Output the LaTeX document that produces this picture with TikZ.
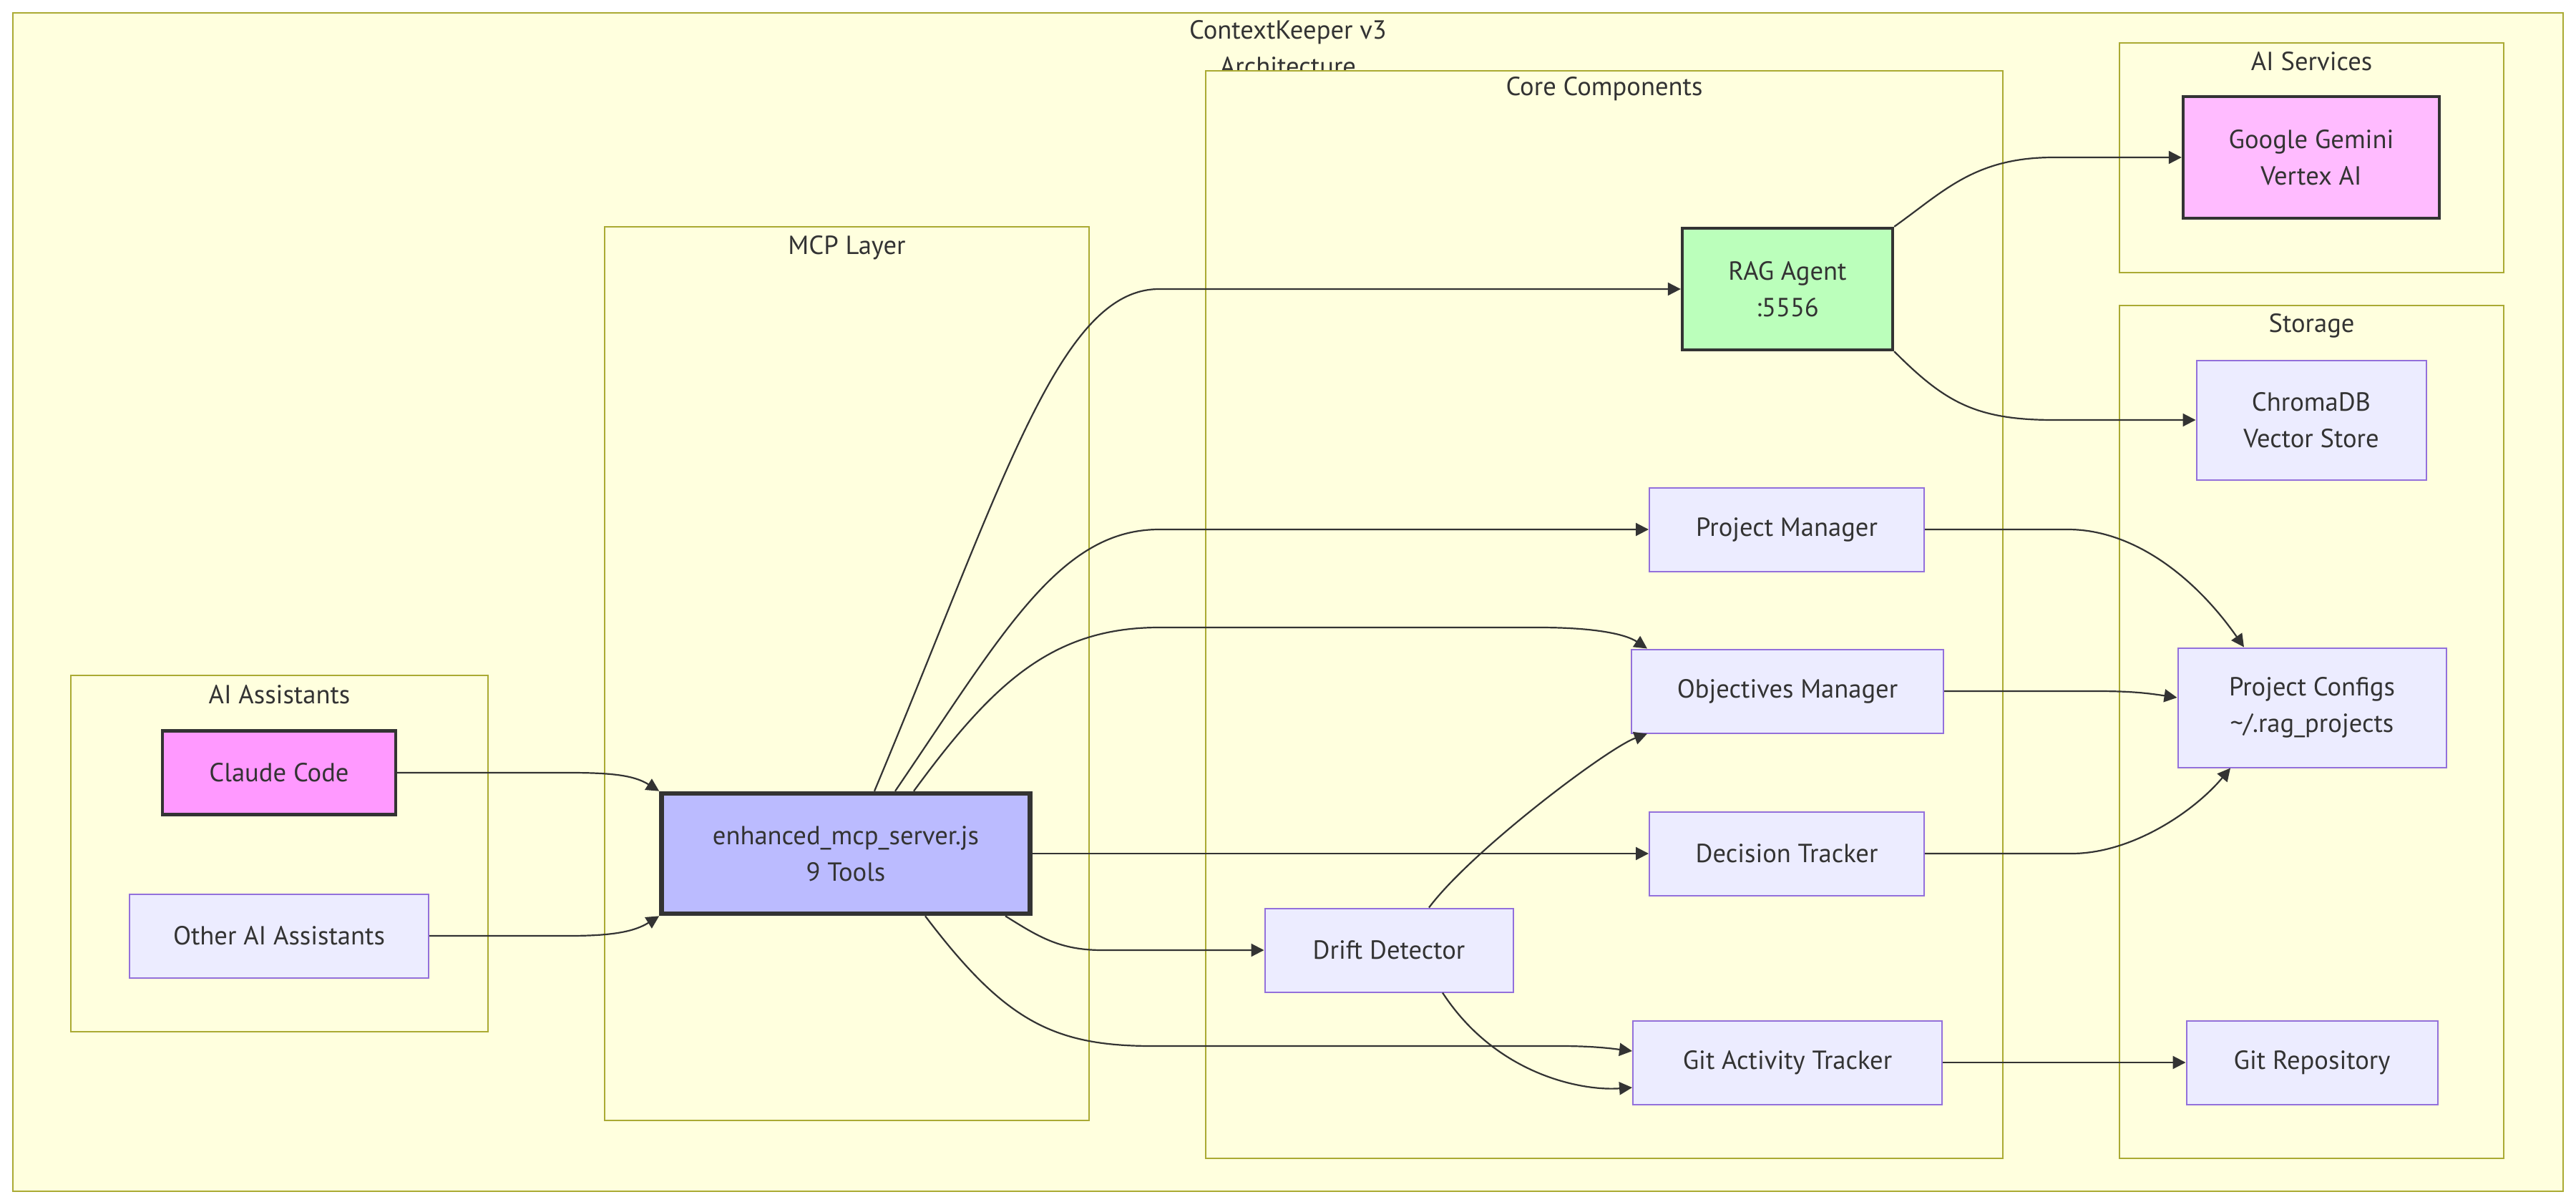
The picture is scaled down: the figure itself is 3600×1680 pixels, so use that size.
\documentclass[tikz,border=0pt]{standalone}
\usepackage{fontspec}
\setmainfont{PT Sans}
\usetikzlibrary{arrows.meta}

\definecolor{clfill}{HTML}{FFFFDE}
\definecolor{clline}{HTML}{AAAA33}
\definecolor{ndfill}{HTML}{ECECFF}
\definecolor{ndline}{HTML}{9370DB}
\definecolor{ink}{HTML}{333333}
\definecolor{pinkA}{HTML}{FF99FF}
\definecolor{pinkB}{HTML}{FFBBFF}
\definecolor{blueA}{HTML}{BBBBFF}
\definecolor{greenA}{HTML}{BBFFBB}

\tikzset{
  cluster/.style={draw=clline, fill=clfill, line width=1pt},
  ctitle/.style={text=ink, anchor=base, inner sep=0pt, font=\fontsize{18.3}{22}\selectfont},
  box/.style={draw=ndline, fill=ndfill, line width=1pt, text=ink, align=center,
    inner sep=0pt, font=\fontsize{18.3}{25.5}\selectfont},
  heavy/.style={draw=ink, line width=2.2pt},
  heavier/.style={draw=ink, line width=3.3pt},
  edge/.style={draw=ink, line width=1.1pt, -{Triangle[length=9pt,width=9pt]}},
}

\begin{document}
\begin{tikzpicture}[x=0.5pt,y=-0.5pt]
  \useasboundingbox (0,0) rectangle (3600,1680);
  \fill[white] (0,0) rectangle (3600,1680);

  % outer frame and its title
  \path[cluster] (18,18) rectangle (3582,1665);
  \node[ctitle] (tOuter)  at (1800,55)  {ContextKeeper v3};
  \node[ctitle] (tOuter2) at (1800,106) {Architecture};

  % groups
  \path[cluster] (99,944)   rectangle (682,1442);
  \path[cluster] (845,317)  rectangle (1522,1566);
  \path[cluster] (1685,99)  rectangle (2799,1619);
  \path[cluster] (2962,60)  rectangle (3499,381);
  \path[cluster] (2962,427) rectangle (3499,1619);

  \node[ctitle] (tAI)   at (390.5,983)  {AI Assistants};
  \node[ctitle] (tMCP)  at (1183.5,356) {MCP Layer};
  \node[ctitle] (tCore) at (2242,134)   {Core Components};
  \node[ctitle] (tSvc)  at (3230.5,99)  {AI Services};
  \node[ctitle] (tSto)  at (3230.5,464) {Storage};

  % nodes
  \node[box, heavy, fill=pinkA, minimum width=163pt, minimum height=58.5pt] (cc) at (390,1080) {Claude Code};
  \node[box, minimum width=209pt, minimum height=58.5pt] (oa) at (390,1308) {Other AI Assistants};
  \node[box, heavier, fill=blueA, minimum width=257.5pt, minimum height=84pt] (mcp) at (1182,1193) {enhanced\_mcp\_server.js\\9 Tools};

  \node[box, heavy, fill=greenA, minimum width=147pt, minimum height=85pt] (rag) at (2498,404) {RAG Agent\\:5556};
  \node[box, minimum width=192pt, minimum height=58.5pt] (pm)  at (2497,740)  {Project Manager};
  \node[box, minimum width=218pt, minimum height=58.5pt] (om)  at (2498,966)  {Objectives Manager};
  \node[box, minimum width=192pt, minimum height=58.5pt] (dt)  at (2497,1193) {Decision Tracker};
  \node[box, minimum width=173.5pt, minimum height=58.5pt] (dd) at (1941,1328) {Drift Detector};
  \node[box, minimum width=216pt, minimum height=58.5pt] (git) at (2498,1485) {Git Activity Tracker};

  \node[box, heavy, fill=pinkB, minimum width=179pt, minimum height=85pt] (gem) at (3230,220) {Google Gemini\\Vertex AI};
  \node[box, minimum width=160.5pt, minimum height=83.5pt] (chroma) at (3230,587) {ChromaDB\\Vector Store};
  \node[box, minimum width=187.5pt, minimum height=83.5pt] (cfg) at (3231,989) {Project Configs\\\textasciitilde/.rag\_projects};
  \node[box, minimum width=175.5pt, minimum height=58.5pt] (repo) at (3231,1485) {Git Repository};

  % connectors
  \draw[edge] (cc.east) -- ++(240,0) .. controls +(60,0) and +(-35,-22) .. (mcp.north west);
  \draw[edge] (oa.east) -- ++(195,0) .. controls +(60,0) and +(-35,22) .. (mcp.south west);

  \draw[edge] ([xshift=20pt]mcp.north) .. controls +(180,-430) and +(-140,0) .. (1620,0 |- rag.west) -- (rag.west);
  \draw[edge] ([xshift=34.5pt]mcp.north) .. controls +(150,-220) and +(-140,0) .. (1620,0 |- pm.west) -- (pm.west);
  \draw[edge] ([xshift=47.5pt]mcp.north) .. controls +(110,-150) and +(-150,0) .. (1620,877) -- (2150,877)
      .. controls +(80,0) and +(-30,-20) .. ([xshift=11.5pt]om.north west);
  \draw[edge] (mcp.east) -- (dt.west);
  \draw[edge] ([xshift=111.5pt]mcp.south) .. controls +(45,28) and +(-60,0) .. (1540,0 |- dd.west) -- (dd.west);
  \draw[edge] ([xshift=55.5pt]mcp.south) .. controls +(110,145) and +(-140,0) .. (1610,1462) -- (2180,1462)
      .. controls +(50,0) and +(-25,-3) .. ([yshift=8pt]git.west);

  \draw[edge] ([xshift=28pt]dd.north) .. controls +(60,-80) and +(-55,20) .. ([xshift=11.5pt]om.south west);
  \draw[edge] ([xshift=37.5pt]dd.south) .. controls +(75,115) and +(-70,5) .. ([yshift=-17.5pt]git.west);

  \draw[edge] (rag.north east) .. controls +(70,-50) and +(-110,0) .. (2870,0 |- gem.west) -- (gem.west);
  \draw[edge] (rag.south east) .. controls +(70,70) and +(-110,0) .. (2870,0 |- chroma.west) -- (chroma.west);

  \draw[edge] (pm.east) -- (2890,0 |- pm.east) .. controls +(90,0) and +(-70,-100) .. ([xshift=-47.5pt]cfg.north);
  \draw[edge] (om.east) -- (2930,0 |- om.east) .. controls +(50,0) and +(-40,-6) .. ([yshift=7pt]cfg.west);
  \draw[edge] (dt.east) -- (2895,0 |- dt.east) .. controls +(85,0) and +(-50,60) .. ([xshift=-57pt]cfg.south);
  \draw[edge] (git.east) -- (repo.west);
\end{tikzpicture}
\end{document}
